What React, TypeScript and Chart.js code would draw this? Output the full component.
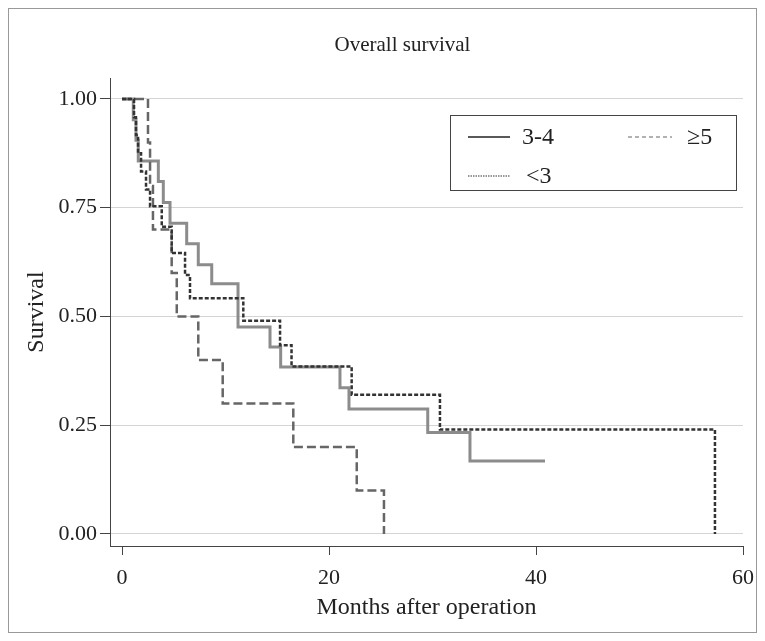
import React, { useEffect, useRef } from 'react';
import { Chart, registerables } from 'chart.js';

Chart.register(...registerables);

// ---- data ----
const seriesLabels = ['3-4', '<3', '≥5'];

const months34 = [0, 1.09, 1.35, 1.57, 3.51, 3.99, 4.64, 6.25, 7.37, 8.67, 11.21, 14.3, 15.33, 21.06, 21.93, 29.54, 33.62, 40.87];
const surv34 = [1.0, 0.952, 0.905, 0.857, 0.81, 0.762, 0.714, 0.667, 0.619, 0.575, 0.476, 0.43, 0.384, 0.336, 0.287, 0.233, 0.168, 0.168];

const monthsLt3 = [0, 1.16, 1.35, 1.55, 1.84, 2.32, 2.71, 3.84, 4.8, 6.09, 6.57, 11.72, 15.27, 16.38, 22.19, 30.72, 57.29];
const survLt3 = [1.0, 0.958, 0.917, 0.875, 0.833, 0.792, 0.753, 0.706, 0.646, 0.595, 0.542, 0.49, 0.434, 0.385, 0.32, 0.24, 0.0];

const monthsGe5 = [0, 2.51, 2.71, 2.99, 4.8, 5.29, 7.37, 9.73, 16.55, 22.68, 25.31];
const survGe5 = [1.0, 0.9, 0.8, 0.7, 0.6, 0.5, 0.4, 0.3, 0.2, 0.1, 0.0];

const xTicks = [0, 20, 40, 60];
const yTicks = [0, 0.25, 0.5, 0.75, 1.0];

const titleText = 'Overall survival';
const xTitle = 'Months after operation';
const yTitle = 'Survival';

const FONT = "'Liberation Serif', 'DejaVu Serif', serif";
const TEXT = '#222';
const AXIS = '#444';

const toPoints = (xs: number[], ys: number[]) => xs.map((x, i) => ({ x, y: ys[i] }));

// Title drawn above the plot, centred slightly right of the canvas centre as in the reference
const topTitle = {
  id: 'topTitle',
  afterDraw(chart: any) {
    const { ctx, chartArea } = chart;
    ctx.save();
    ctx.font = `21px ${FONT}`;
    ctx.fillStyle = TEXT;
    ctx.textAlign = 'center';
    ctx.textBaseline = 'middle';
    ctx.fillText(titleText, chartArea.left + 292.5, chartArea.top - 33);
    ctx.restore();
  },
};

const boxLegend = {
  id: 'boxLegend',
  afterDraw(chart: any) {
    const { ctx, chartArea } = chart;
    const x0 = chartArea.right - 293;
    const y0 = chartArea.top + 37;
    const w = 286;
    const h = 75;
    ctx.save();
    ctx.strokeStyle = AXIS;
    ctx.lineWidth = 1;
    ctx.setLineDash([]);
    ctx.strokeRect(Math.round(x0) + 0.5, Math.round(y0) + 0.5, w, h);
    const items = [
      { i: 0, lx: 18, ly: 22, len: 42, tx: 72, dash: [] as number[], color: '#222' },
      { i: 2, lx: 178, ly: 22, len: 44, tx: 237, dash: [4, 3], color: '#999' },
      { i: 1, lx: 18, ly: 61, len: 42, tx: 76, dash: [1.5, 1], color: '#777' },
    ];
    ctx.font = `24px ${FONT}`;
    ctx.fillStyle = TEXT;
    ctx.textBaseline = 'middle';
    ctx.textAlign = 'left';
    for (const it of items) {
      ctx.beginPath();
      ctx.setLineDash(it.dash);
      ctx.strokeStyle = it.color;
      ctx.lineWidth = 1.5;
      ctx.moveTo(x0 + it.lx, y0 + it.ly);
      ctx.lineTo(x0 + it.lx + it.len, y0 + it.ly);
      ctx.stroke();
      ctx.setLineDash([]);
      ctx.fillText(chart.data.datasets[it.i].label, x0 + it.tx, y0 + it.ly + 1);
    }
    ctx.restore();
  },
};

export default function App() {
  const ref = useRef<HTMLCanvasElement | null>(null);

  useEffect(() => {
    if (!ref.current) return;
    const chart = new Chart(ref.current, {
      type: 'line',
      data: {
        datasets: [
          {
            label: seriesLabels[0],
            data: toPoints(months34, surv34),
            borderColor: '#8c8c8c',
            borderWidth: 3,
            stepped: 'before',
            pointRadius: 0,
            fill: false,
            order: 3,
          },
          {
            label: seriesLabels[1],
            data: toPoints(monthsLt3, survLt3),
            borderColor: '#333333',
            borderWidth: 2.5,
            borderDash: [4, 2],
            stepped: 'before',
            pointRadius: 0,
            fill: false,
            order: 1,
          },
          {
            label: seriesLabels[2],
            data: toPoints(monthsGe5, survGe5),
            borderColor: '#666666',
            borderWidth: 2.5,
            borderDash: [9, 4],
            stepped: 'before',
            pointRadius: 0,
            fill: false,
            order: 2,
          },
        ],
      } as any,
      options: {
        animation: false,
        responsive: false,
        maintainAspectRatio: false,
        devicePixelRatio: 1,
        layout: { padding: { left: 0, right: 13, top: 69, bottom: 0 } },
        plugins: {
          legend: { display: false },
          tooltip: { enabled: false },
          title: { display: false },
        },
        scales: {
          x: {
            type: 'linear',
            min: -1.16,
            max: 60,
            afterBuildTicks: (s: any) => {
              s.ticks = xTicks.map((v) => ({ value: v }));
            },
            afterFit: (s: any) => {
              s.height = 86;
              s.paddingLeft = 0;
              s.paddingRight = 0;
            },
            grid: {
              drawOnChartArea: false,
              drawTicks: true,
              tickLength: 9,
              tickColor: AXIS,
              color: AXIS,
            },
            border: { display: true, color: AXIS, width: 1 },
            ticks: {
              color: TEXT,
              font: { family: FONT, size: 22 },
              padding: 10,
              maxRotation: 0,
              autoSkip: false,
              callback: (v: any) => String(v),
            },
            title: {
              display: true,
              text: xTitle,
              color: TEXT,
              font: { family: FONT, size: 24 },
              padding: { top: 0, bottom: 10 },
            },
          },
          y: {
            type: 'linear',
            min: -0.0276,
            max: 1.048,
            afterBuildTicks: (s: any) => {
              s.ticks = yTicks.map((v) => ({ value: v }));
            },
            afterFit: (s: any) => {
              s.width = 101;
              s.paddingTop = 0;
              s.paddingBottom = 0;
            },
            grid: {
              color: '#d4d4d4',
              lineWidth: 1,
              drawTicks: true,
              tickLength: 10,
              tickColor: AXIS,
            },
            border: { display: true, color: AXIS, width: 1 },
            ticks: {
              color: TEXT,
              font: { family: FONT, size: 22 },
              padding: 3,
              autoSkip: false,
              callback: (v: any) => Number(v).toFixed(2),
            },
            title: {
              display: true,
              text: yTitle,
              color: TEXT,
              font: { family: FONT, size: 24 },
              padding: { top: 13.6, bottom: 0 },
            },
          },
        },
      } as any,
      plugins: [topTitle, boxLegend],
    });
    return () => chart.destroy();
  }, []);

  return (
    <div style={{ width: 747, height: 623, border: '1px solid #999', background: '#fff' }}>
      <canvas ref={ref} width={747} height={623} style={{ display: 'block', width: 747, height: 623 }} />
    </div>
  );
}
